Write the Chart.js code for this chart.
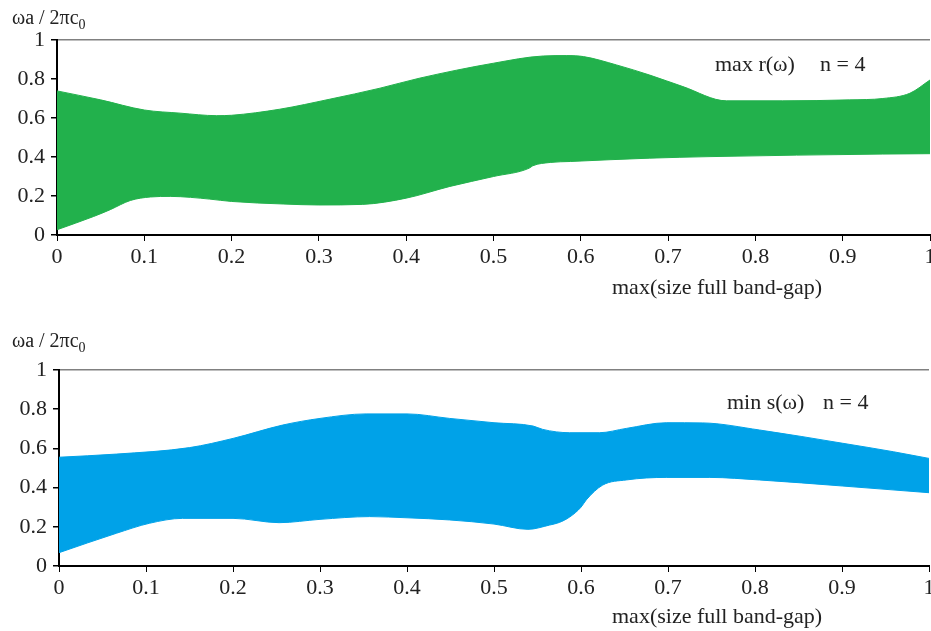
<!DOCTYPE html>
<html>
<head>
<meta charset="utf-8">
<script src="https://cdn.jsdelivr.net/npm/chart.js@4.4.1/dist/chart.umd.min.js"></script>
<style>
  html, body { margin: 0; padding: 0; overflow: hidden; background: #fff; }
  #page { position: relative; width: 931px; height: 631px; overflow: hidden; font-family: "Liberation Serif", "DejaVu Serif", serif; color: #222; }
  canvas { position: absolute; left: 0; }
  .lbl { position: absolute; white-space: nowrap; font-size: 22px; line-height: 26px; }
  .ytitle { font-size: 20px; line-height: 24px; }
  .ytitle sub { font-size: 14px; vertical-align: -5px; }
  .xtitle { font-size: 22px; line-height: 26px; }
</style>
</head>
<body>
<div id="page">
  <canvas id="chartR" width="945" height="310" style="top:0;width:945px;height:310px"></canvas>
  <canvas id="chartS" width="945" height="301" style="top:330px;width:945px;height:301px"></canvas>

  <div class="lbl ytitle" style="left:12px;top:5px">ωa / 2πc<sub>0</sub></div>
  <div class="lbl" style="left:715px;top:51px">max r(ω)</div>
  <div class="lbl" style="left:820px;top:51px">n = 4</div>
  <div class="lbl xtitle" style="left:612px;top:274px">max(size full band-gap)</div>

  <div class="lbl ytitle" style="left:12px;top:328px">ωa / 2πc<sub>0</sub></div>
  <div class="lbl" style="left:727px;top:389px">min s(ω)</div>
  <div class="lbl" style="left:823px;top:389px">n = 4</div>
  <div class="lbl xtitle" style="left:612px;top:603px">max(size full band-gap)</div>
</div>
<script>
// tick labels
const xTickLabels = ['0', '0.1', '0.2', '0.3', '0.4', '0.5', '0.6', '0.7', '0.8', '0.9', '1'];
const yTickLabels = ['0', '0.2', '0.4', '0.6', '0.8', '1'];

// top panel: max r(w), upper and lower band edges
const xUpperR = [0, 0.05, 0.1, 0.141, 0.183, 0.2, 0.255, 0.312, 0.37, 0.415, 0.5, 0.557, 0.584, 0.603, 0.641, 0.679, 0.717, 0.767, 0.831, 0.908, 0.946, 0.977, 1];
const yUpperR = [0.739, 0.693, 0.641, 0.625, 0.612, 0.614, 0.645, 0.696, 0.753, 0.804, 0.881, 0.918, 0.92, 0.915, 0.872, 0.82, 0.761, 0.688, 0.688, 0.693, 0.70, 0.727, 0.795];
const xLowerR = [0, 0.042, 0.061, 0.084, 0.107, 0.13, 0.153, 0.175, 0.2, 0.259, 0.3, 0.35, 0.4, 0.45, 0.5, 0.541, 0.545, 0.565, 0.588, 0.679, 0.748, 0.946, 1];
const yLowerR = [0.027, 0.095, 0.13, 0.177, 0.195, 0.198, 0.193, 0.184, 0.172, 0.159, 0.154, 0.157, 0.189, 0.249, 0.30, 0.343, 0.355, 0.372, 0.377, 0.394, 0.402, 0.415, 0.417];

// bottom panel: min s(w)
const xUpperS = [0, 0.066, 0.15, 0.2, 0.257, 0.3, 0.353, 0.4, 0.449, 0.5, 0.545, 0.556, 0.587, 0.621, 0.652, 0.698, 0.74, 0.805, 0.901, 0.959, 1];
const yUpperS = [0.555, 0.571, 0.604, 0.651, 0.719, 0.753, 0.776, 0.776, 0.753, 0.731, 0.714, 0.697, 0.680, 0.680, 0.702, 0.731, 0.73, 0.694, 0.626, 0.583, 0.549];
const xLowerS = [0, 0.066, 0.104, 0.142, 0.2, 0.253, 0.3, 0.357, 0.4, 0.449, 0.5, 0.539, 0.564, 0.575, 0.587, 0.6, 0.606, 0.625, 0.652, 0.698, 0.748, 0.805, 0.901, 1];
const yLowerS = [0.068, 0.167, 0.218, 0.243, 0.243, 0.221, 0.238, 0.252, 0.246, 0.235, 0.214, 0.187, 0.209, 0.222, 0.25, 0.30, 0.337, 0.413, 0.439, 0.452, 0.452, 0.439, 0.408, 0.374];

const GREEN = '#22b14c';
const BLUE = '#00a2e8';

function pts(xs, ys) {
    return xs.map((x, i) => ({ x: x, y: ys[i] }));
}

function makeChart(id, upperX, upperY, lowerX, lowerY, color, yAxisWidth, pad) {
    let ctx = document.getElementById(id).getContext('2d');
    return new Chart(ctx, {
        type: 'line',
        data: {
            datasets: [{
                data: pts(lowerX, lowerY),
                borderColor: color,
                borderWidth: 1,
                pointRadius: 0,
                fill: false,
                cubicInterpolationMode: 'monotone'
            }, {
                data: pts(upperX, upperY),
                borderColor: color,
                backgroundColor: color,
                borderWidth: 1,
                pointRadius: 0,
                fill: '-1',
                cubicInterpolationMode: 'monotone'
            }]
        },
        options: {
            responsive: false,
            animation: false,
            events: [],
            layout: { padding: pad },
            plugins: { legend: { display: false }, tooltip: { enabled: false } },
            scales: {
                x: {
                    type: 'linear',
                    min: 0, max: 1,
                    afterFit: s => { s.height = 35; },
                    border: { display: true, color: '#000', width: 2 },
                    grid: { drawOnChartArea: false, tickLength: 6, tickColor: '#000' },
                    ticks: {
                        stepSize: 0.1,
                        padding: 3,
                        maxRotation: 0,
                        autoSkip: false,
                        color: '#222',
                        font: { family: 'Liberation Serif', size: 22 },
                        callback: v => xTickLabels[Math.round(v * 10)]
                    }
                },
                y: {
                    min: 0, max: 1,
                    afterFit: s => { s.width = yAxisWidth; },
                    border: { display: true, color: '#000', width: 2 },
                    grid: {
                        drawOnChartArea: true,
                        tickLength: 6,
                        tickColor: '#000',
                        lineWidth: 1.5,
                        color: c => (c.tick && c.tick.value === 1) ? '#808080' : 'rgba(0,0,0,0)'
                    },
                    ticks: {
                        stepSize: 0.2,
                        padding: 6,
                        color: '#222',
                        font: { family: 'Liberation Serif', size: 22 },
                        callback: v => yTickLabels[Math.round(v * 5)]
                    }
                }
            }
        }
    });
}

makeChart('chartR', xUpperR, yUpperR, xLowerR, yLowerR, GREEN, 57, { top: 40, right: 15, bottom: 40, left: 0 });
makeChart('chartS', xUpperS, yUpperS, xLowerS, yLowerS, BLUE, 59, { top: 40, right: 16, bottom: 30, left: 0 });
</script>
</body>
</html>
